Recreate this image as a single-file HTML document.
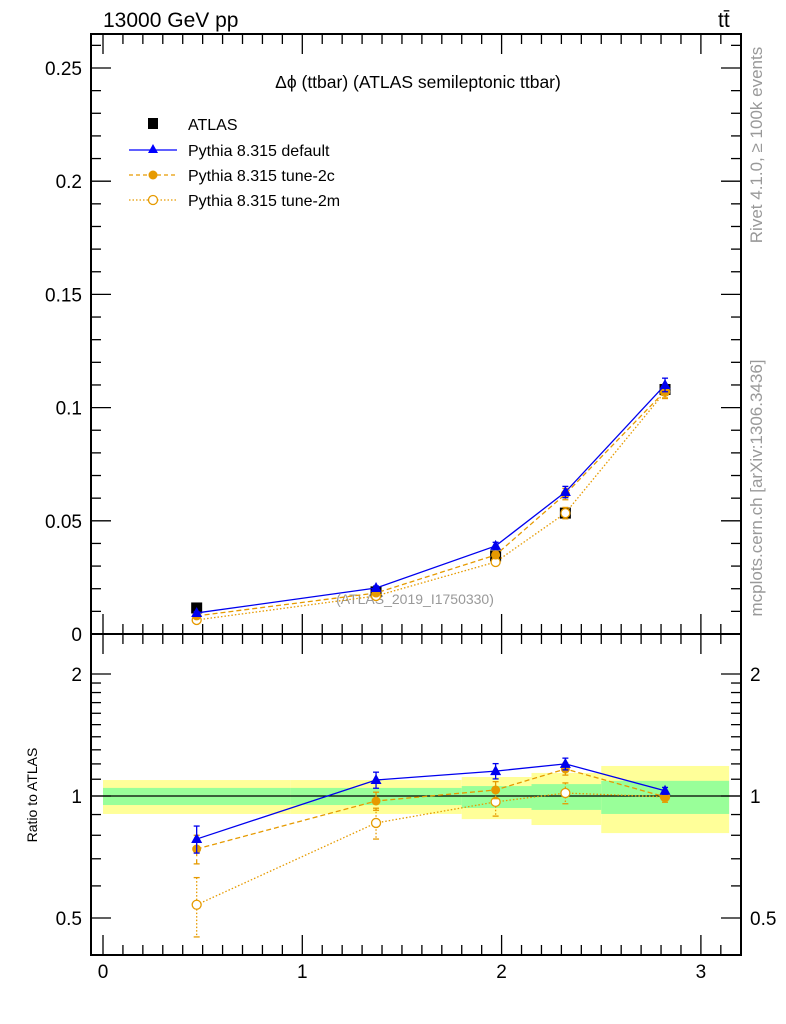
<!DOCTYPE html>
<html><head><meta charset="utf-8"><style>
body{margin:0;background:#fff}
svg{display:block;font-family:"Liberation Sans",sans-serif}
</style></head><body>
<svg id="c" width="786" height="1024" viewBox="0 0 786 1024">
<text x="103" y="27" font-size="21">13000 GeV pp</text>
<text x="718" y="27" font-size="21">tt̄</text>
<text x="418" y="88" font-size="17.5" text-anchor="middle">Δϕ (ttbar) (ATLAS semileptonic ttbar)</text>
<text transform="translate(762,145) rotate(-90)" font-size="17" fill="#999" text-anchor="middle">Rivet 4.1.0, ≥ 100k events</text>
<text transform="translate(762,488) rotate(-90)" font-size="17" fill="#999" text-anchor="middle">mcplots.cern.ch [arXiv:1306.3436]</text>
<text x="415" y="604" font-size="14" fill="#999" text-anchor="middle">(ATLAS_2019_I1750330)</text>
<text transform="translate(37,795) rotate(-90)" font-size="14" text-anchor="middle">Ratio to ATLAS</text>
<g id="legend">
 <g><rect x="148" y="118" width="10" height="11" fill="#000"/><text x="188" y="130" font-size="16">ATLAS</text></g>
 <g><line x1="129" x2="177" y1="150" y2="150" stroke="#00f" stroke-width="1.3"/><path d="M153,144 L158,153 L148,153Z" fill="#00f"/><text x="188" y="156" font-size="16">Pythia 8.315 default</text></g>
 <g><line x1="129" x2="177" y1="175" y2="175" stroke="#e69a00" stroke-width="1.3" stroke-dasharray="4,3"/><circle cx="153" cy="175" r="4.5" fill="#e69a00"/><text x="188" y="181" font-size="16">Pythia 8.315 tune-2c</text></g>
 <g><line x1="129" x2="177" y1="200" y2="200" stroke="#e69a00" stroke-width="1.3" stroke-dasharray="1.5,2"/><circle cx="153" cy="200" r="4.5" fill="#fff" stroke="#e69a00" stroke-width="1.3"/><text x="188" y="206" font-size="16">Pythia 8.315 tune-2m</text></g>
</g>
<g id="g"></g>
</svg>
<script>
const xs=[0.47,1.37,1.97,2.32,2.82];
const binEdges=[0,0.94,1.8,2.15,2.5,3.1416];
const atlas=[0.0115,0.0186,0.0345,0.0534,0.108];
const pyDefault=[0.0093,0.0203,0.0389,0.0627,0.110];
const pyTune2c=[0.0080,0.0181,0.0349,0.0618,0.1073];
const pyTune2m=[0.0062,0.0168,0.0318,0.0534,0.107];
const mainErr=[0.0006,0.0009,0.0016,0.0025,0.003];
const ratioDefault=[0.783,1.095,1.152,1.2,1.03];
const ratioTune2c=[0.74,0.972,1.035,1.166,0.995];
const ratioTune2m=[0.539,0.858,0.967,1.017,0.995];
const ratioErr=[0.06,0.05,0.05,0.04,0.02];
const bandYelLo=[0.903,0.903,0.877,0.848,0.81];
const bandYelHi=[1.095,1.095,1.114,1.14,1.186];
const bandGrnLo=[0.95,0.95,0.934,0.924,0.903];
const bandGrnHi=[1.047,1.047,1.058,1.07,1.09];
const yTicks=[0,0.05,0.1,0.15,0.2,0.25];
const yTickLabels=["0","0.05","0.1","0.15","0.2","0.25"];
const xTicks=[0,1,2,3];
const rTicks=[0.5,1,2];

const L=91,R=741,T=34,MB=634,RB=955;
const X=v=>103+v*199.3;
const Y=v=>634-v*2264;
const RY=v=>796-Math.log2(v)*122;
const ns="http://www.w3.org/2000/svg";
const g=document.getElementById('g');
function mk(t,a,name){const e=document.createElementNS(ns,t);for(const k in a)e.setAttribute(k,a[k]);


g.appendChild(e);return e;}

for(let i=0;i<5;i++){
 mk('rect',{x:X(binEdges[i]),y:RY(bandYelHi[i]),width:X(binEdges[i+1])-X(binEdges[i]),height:RY(bandYelLo[i])-RY(bandYelHi[i]),fill:'#ffff99'},'band-yellow-'+i);
}
for(let i=0;i<5;i++){
 mk('rect',{x:X(binEdges[i]),y:RY(bandGrnHi[i]),width:X(binEdges[i+1])-X(binEdges[i]),height:RY(bandGrnLo[i])-RY(bandGrnHi[i]),fill:'#99ff99'},'band-green-'+i);
}
mk('line',{x1:L,x2:R,y1:RY(1),y2:RY(1),stroke:'#000','stroke-width':1.3},'ratio-unity-line');

mk('rect',{x:L,y:T,width:R-L,height:MB-T,fill:'none',stroke:'#000','stroke-width':2},'main-frame');
mk('rect',{x:L,y:MB,width:R-L,height:RB-MB,fill:'none',stroke:'#000','stroke-width':2},'ratio-frame');

for(let v=0;v<=3.15;v+=0.1){
 const maj=Math.abs(v-Math.round(v))<1e-6, x=X(v), len=maj?20:10;
 for(const [y0,dir] of [[T,1],[MB,-1],[MB,1],[RB,-1]]){
  mk('line',{x1:x,x2:x,y1:y0,y2:y0+dir*len,stroke:'#000','stroke-width':1.3},'x-tick');
 }
}
xTicks.forEach(v=>{const t=mk('text',{x:X(v),y:978,'font-size':19,'text-anchor':'middle'},'x-tick-label');t.textContent=v;});

for(let k=0;k<=26;k++){
 const v=k*0.01,y=Y(v),maj=k%5==0,len=maj?20:10;
 mk('line',{x1:L,x2:L+len,y1:y,y2:y,stroke:'#000','stroke-width':1.3},'y-tick');
 mk('line',{x1:R,x2:R-len,y1:y,y2:y,stroke:'#000','stroke-width':1.3},'y-tick');
}
yTicks.forEach((v,i)=>{const t=mk('text',{x:82,y:Y(v)+7,'font-size':19,'text-anchor':'end'},'y-tick-label');t.textContent=yTickLabels[i];});

const rMinor=[0.5,0.6,0.7,0.8,0.9,1,1.1,1.2,1.3,1.4,1.5,1.6,1.7,1.8,1.9,2];
rMinor.forEach(v=>{const y=RY(v),maj=rTicks.includes(v),len=maj?20:10;
 mk('line',{x1:L,x2:L+len,y1:y,y2:y,stroke:'#000','stroke-width':1.3},'ratio-y-tick');
 mk('line',{x1:R,x2:R-len,y1:y,y2:y,stroke:'#000','stroke-width':1.3},'ratio-y-tick');});
rTicks.forEach(v=>{
 const t=mk('text',{x:82,y:RY(v)+7,'font-size':19,'text-anchor':'end'},'ratio-y-tick-label');t.textContent=v;
 const t2=mk('text',{x:750,y:RY(v)+7,'font-size':19},'ratio-y-tick-label-right');t2.textContent=v;});

function series(vals,errs,yf,col,dash,marker,name){
 mk('polyline',{points:vals.map((v,i)=>X(xs[i])+','+yf(v)).join(' '),fill:'none',stroke:col,'stroke-width':1.3,'stroke-dasharray':dash},name+'-line');
 vals.forEach((v,i)=>{
  const x=X(xs[i]);
  const e=errs[i], y1=yf(v+e), y2=yf(Math.max(v-e,1e-4));
  mk('line',{x1:x,x2:x,y1:y1,y2:y2,stroke:col,'stroke-width':1.3,'stroke-dasharray':dash},name+'-errorbar');
  mk('line',{x1:x-3,x2:x+3,y1:y1,y2:y1,stroke:col,'stroke-width':1.3},name+'-errorcap');
  mk('line',{x1:x-3,x2:x+3,y1:y2,y2:y2,stroke:col,'stroke-width':1.3},name+'-errorcap');
  const y=yf(v);
  if(marker=='tri')mk('path',{d:`M${x},${y-6} L${x+5.5},${y+4} L${x-5.5},${y+4}Z`,fill:col},name+'-point');
  if(marker=='dot')mk('circle',{cx:x,cy:y,r:4.5,fill:col},name+'-point');
  if(marker=='ring')mk('circle',{cx:x,cy:y,r:4.5,fill:'#fff',stroke:col,'stroke-width':1.3},name+'-point');
 });
}
atlas.forEach((v,i)=>mk('rect',{x:X(xs[i])-5.5,y:Y(v)-5.5,width:11,height:11,fill:'#000'},'atlas-point'));
series(pyTune2m,mainErr,Y,'#e69a00','1.5,2','ring','main-tune-2m');
series(pyTune2c,mainErr,Y,'#e69a00','5,3','dot','main-tune-2c');
series(pyDefault,mainErr,Y,'#0000ee','','tri','main-default');
series(ratioTune2m,ratioErr.map(e=>e*1.5),RY,'#e69a00','1.5,2','ring','ratio-tune-2m');
series(ratioTune2c,ratioErr,RY,'#e69a00','5,3','dot','ratio-tune-2c');
series(ratioDefault,ratioErr,RY,'#0000ee','','tri','ratio-default');
</script>
</body></html>
